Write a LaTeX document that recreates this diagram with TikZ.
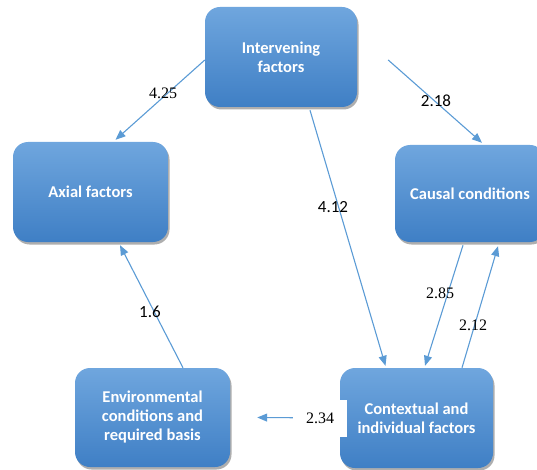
\documentclass[tikz,border=0pt]{standalone}
\usepackage{fontspec}
\setmainfont{Liberation Serif}
\newfontfamily\boxfont{Carlito}
\usetikzlibrary{arrows.meta,shadows,calc}
\definecolor{boxtop}{HTML}{6FA6DE}
\definecolor{boxbot}{HTML}{3F7FC5}
\definecolor{arrcol}{HTML}{5B9BD5}
\tikzset{
  box/.style={rounded corners=15pt, draw=none, top color=boxtop, bottom color=boxbot,
    drop shadow={shadow xshift=1.5pt, shadow yshift=-2.5pt, opacity=0.45, fill=black!70},
    text=white, align=center, inner sep=2pt,
    font=\boxfont\bfseries\fontsize{16.5}{19}\selectfont},
  arr/.style={draw=arrcol, line width=1.1pt, -{Triangle[length=10pt,width=8pt]}},
  serlab/.style={font=\fontsize{16}{18}\selectfont, inner sep=1pt},
  sanlab/.style={font=\boxfont\fontsize{17}{19}\selectfont, inner sep=1pt},
}
\begin{document}
\begin{tikzpicture}[x=1pt,y=-1pt]
\useasboundingbox (0,0) rectangle (537,470);
\begin{scope}
\clip (0,0) rectangle (537,470);
\node[box, minimum width=152pt, minimum height=100pt] (int) at (281,57) {Intervening\\factors};
\node[box, minimum width=155pt, minimum height=100pt] (axial) at (90.5,192) {Axial factors};
\node[box, minimum width=150pt, minimum height=97pt] (causal) at (470,193.5) {Causal conditions};
\node[box, minimum width=155pt, minimum height=99pt] (env) at (152.5,417.5) {Environmental\\conditions and\\required basis};
\node[box, minimum width=153pt, minimum height=100pt] (ctx) at (416.5,418) {Contextual and\\individual factors};
\end{scope}

\draw[arr] ([yshift=-3pt]int.west) -- ([xshift=25pt,yshift=2pt]axial.north);
\draw[arr] ([xshift=31pt,yshift=-3pt]int.east) -- ([xshift=12pt,yshift=2pt]causal.north);
\draw[arr] ([xshift=29pt,yshift=-3pt]int.south) -- ([xshift=-31pt,yshift=2pt]ctx.north);
\draw[arr] ([xshift=-7pt,yshift=-3pt]causal.south) -- ([xshift=8.5pt,yshift=2pt]ctx.north);
\draw[arr] ([xshift=45.5pt]ctx.north) -- ([xshift=28pt,yshift=-4pt]causal.south);
\draw[arr] ([xshift=30.5pt]env.north) -- ([xshift=29.5pt,yshift=-3pt]axial.south);
\draw[arr] (ctx.west) -- ([xshift=27pt]env.east);

\node[serlab] (l425) at (163,93) {4.25};
\node[sanlab] (l218) at (436,101) {2.18};
\node[sanlab] (l412) at (333,207) {4.12};
\node[serlab] (l285) at (440,293) {2.85};
\node[serlab] (l212) at (473,325) {2.12};
\node[sanlab] (l16) at (150,312) {1.6};
\node[serlab, fill=white, minimum width=54pt, minimum height=37pt] (l234) at (320,418) {2.34};
\end{tikzpicture}
\end{document}
